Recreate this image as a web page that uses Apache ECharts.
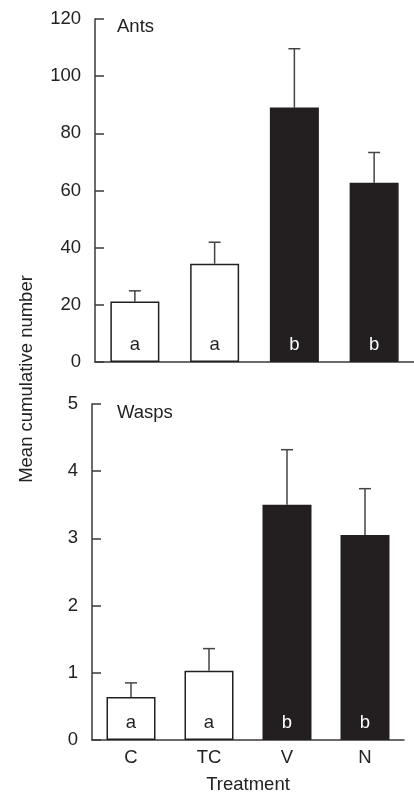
<!DOCTYPE html>
<html>
<head>
<meta charset="utf-8">
<script src="https://cdn.jsdelivr.net/npm/echarts@6/dist/echarts.min.js"></script>
<style>
  html, body { margin: 0; padding: 0; background: #fff; }
  #chart { width: 414px; height: 793px; }
</style>
</head>
<body>
<div id="chart"></div>
<script>
const categories = ['C', 'TC', 'V', 'N'];
const letters = ['a', 'a', 'b', 'b'];
const antsMean = [21.2, 34.4, 89.0, 62.7];
const antsUpper = [24.9, 41.9, 109.6, 73.3];
const waspsMean = [0.64, 1.03, 3.50, 3.05];
const waspsUpper = [0.85, 1.36, 4.32, 3.74];
const antsTicks = [0, 20, 40, 60, 80, 100, 120];
const waspsTicks = [0, 1, 2, 3, 4, 5];

const ink = '#231f20';
const axisColor = '#3a3a3a';
const font = '"Liberation Sans", Arial, sans-serif';
const fs = 18.5;

const barData = (means) => means.map((v, i) => {
  const dark = letters[i] === 'b';
  return {
    value: v,
    itemStyle: { color: dark ? ink : '#fff', borderColor: ink, borderWidth: 1.5 },
    label: { formatter: letters[i], color: dark ? '#fff' : ink }
  };
});

const errorData = (means, upper) => means.map((v, i) => [i, v, upper[i]]);

const errorRender = (params, api) => {
  const base = api.coord([api.value(0), api.value(1)]);
  const top = api.coord([api.value(0), api.value(2)]);
  const half = 6;
  const style = { stroke: '#444', lineWidth: 1.5 };
  return {
    type: 'group',
    children: [
      { type: 'line', shape: { x1: base[0], y1: base[1], x2: top[0], y2: top[1] }, style },
      { type: 'line', shape: { x1: top[0] - half, y1: top[1], x2: top[0] + half, y2: top[1] }, style }
    ]
  };
};

const yAxisBase = (ticks, margin) => ({
  type: 'value',
  min: ticks[0],
  max: ticks[ticks.length - 1],
  interval: ticks[1] - ticks[0],
  splitLine: { show: false },
  axisLine: { show: true, lineStyle: { color: axisColor, width: 1.5 } },
  axisTick: { show: true, inside: true, length: 9, lineStyle: { color: axisColor, width: 1.5 } },
  axisLabel: { margin: margin, color: '#222', fontSize: fs, fontFamily: font }
});

const chart = echarts.init(document.getElementById('chart'), null, { renderer: 'canvas' });

chart.setOption({
  animation: false,
  backgroundColor: '#fff',
  textStyle: { fontFamily: font },
  grid: [
    { left: 95, top: 19, width: 319, height: 343, containLabel: false, outerBoundsMode: 'none' },
    { left: 92, top: 404, width: 312, height: 336, containLabel: false, outerBoundsMode: 'none' }
  ],
  xAxis: [
    {
      type: 'category', gridIndex: 0, data: categories,
      axisLine: { lineStyle: { color: axisColor, width: 1.5 } },
      axisTick: { show: false },
      axisLabel: { show: false }
    },
    {
      type: 'category', gridIndex: 1, data: categories,
      name: 'Treatment', nameLocation: 'middle', nameGap: 35,
      nameTextStyle: { color: '#222', fontSize: fs, fontFamily: font },
      axisLine: { lineStyle: { color: axisColor, width: 1.5 } },
      axisTick: { show: false },
      axisLabel: { margin: 8, color: '#222', fontSize: fs, fontFamily: font }
    }
  ],
  yAxis: [
    Object.assign(yAxisBase(antsTicks, 14), { gridIndex: 0 }),
    Object.assign(yAxisBase(waspsTicks, 14), { gridIndex: 1 })
  ],
  graphic: [
    { type: 'text', left: 117, top: 17, style: { text: 'Ants', fill: '#222', font: fs + 'px ' + font } },
    { type: 'text', left: 117, top: 403, style: { text: 'Wasps', fill: '#222', font: fs + 'px ' + font } },
    {
      type: 'text', x: 27, y: 379, rotation: Math.PI / 2,
      style: { text: 'Mean cumulative number', fill: '#222', font: fs + 'px ' + font, align: 'center', verticalAlign: 'middle' }
    }
  ],
  series: [
    {
      type: 'bar', xAxisIndex: 0, yAxisIndex: 0, barWidth: 49,
      data: barData(antsMean),
      label: { show: true, position: 'insideBottom', distance: 8, fontSize: fs, fontFamily: font }
    },
    {
      type: 'custom', xAxisIndex: 0, yAxisIndex: 0,
      renderItem: errorRender, data: errorData(antsMean, antsUpper), z: 1
    },
    {
      type: 'bar', xAxisIndex: 1, yAxisIndex: 1, barWidth: 49,
      data: barData(waspsMean),
      label: { show: true, position: 'insideBottom', distance: 8, fontSize: fs, fontFamily: font }
    },
    {
      type: 'custom', xAxisIndex: 1, yAxisIndex: 1,
      renderItem: errorRender, data: errorData(waspsMean, waspsUpper), z: 1
    }
  ]
});
</script>
</body>
</html>
